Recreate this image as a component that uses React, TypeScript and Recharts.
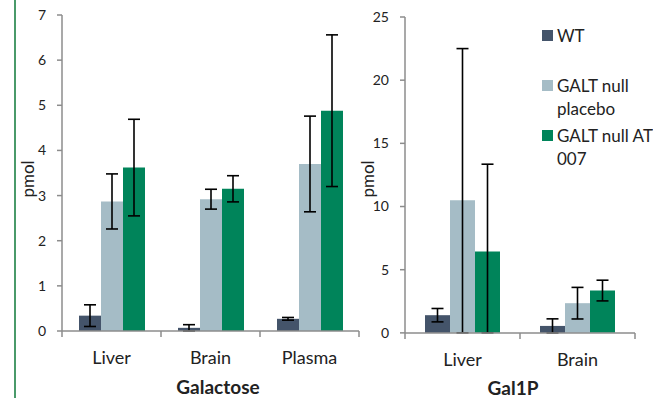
import React from "react"
import { BarChart, Bar, XAxis, YAxis, ErrorBar, Legend } from "recharts"

const galCategories = ["Liver", "Brain", "Plasma"]
const galWT = [0.34, 0.07, 0.27]
const galWTErr = [0.24, 0.07, 0.03]
const galPlacebo = [2.87, 2.92, 3.7]
const galPlaceboErr = [0.61, 0.22, 1.06]
const galAT = [3.62, 3.15, 4.88]
const galATErr = [1.07, 0.29, 1.68]
const galTicks = [0, 1, 2, 3, 4, 5, 6, 7]

const g1pCategories = ["Liver", "Brain"]
const g1pWT = [1.4, 0.55]
const g1pWTErr = [0.53, 0.56]
const g1pPlacebo = [10.5, 2.35]
// lower whisker is cut at the axis in the original
const g1pPlaceboErr: [number, number][] = [[10.5, 12.0], [1.25, 1.25]]
const g1pAT = [6.45, 3.35]
const g1pATErr: [number, number][] = [[6.45, 6.9], [0.82, 0.82]]
const g1pTicks = [0, 5, 10, 15, 20, 25]

const seriesNames = ["WT", "GALT null placebo", "GALT null AT 007"]

const WT_COLOR = "#44546a"
const PLACEBO_COLOR = "#a5bcc6"
const AT_COLOR = "#00845a"
const AXIS_COLOR = "#8c8c8c"
const FONT = "Lato, 'Open Sans', sans-serif"
const CAP = 6

const galData = galCategories.map((name, i) => ({
  name,
  wt: galWT[i],
  wtErr: galWTErr[i],
  placebo: galPlacebo[i],
  placeboErr: galPlaceboErr[i],
  at: galAT[i],
  atErr: galATErr[i],
}))

const g1pData = g1pCategories.map((name, i) => ({
  name,
  wt: g1pWT[i],
  wtErr: g1pWTErr[i],
  placebo: g1pPlacebo[i],
  placeboErr: g1pPlaceboErr[i],
  at: g1pAT[i],
  atErr: g1pATErr[i],
}))

const makeCatTick = (band: number, count: number) => (props: any) => {
  const { x, y, payload, index } = props
  const half = band / 2
  return (
    <g>
      <line x1={x - half} x2={x - half} y1={y} y2={y + 6} stroke={AXIS_COLOR} strokeWidth={1.5} />
      {index === count - 1 && (
        <line x1={x + half} x2={x + half} y1={y} y2={y + 6} stroke={AXIS_COLOR} strokeWidth={1.5} />
      )}
      <text x={x} y={y + 26} textAnchor="middle" dominantBaseline="central" fill="#222" fontSize={18} fontFamily={FONT}>
        {payload.value}
      </text>
    </g>
  )
}

const legendContent = (props: any) => {
  const items = [...(props.payload || [])].sort(
    (a: any, b: any) => seriesNames.indexOf(a.value) - seriesNames.indexOf(b.value)
  )
  return (
    <div style={{ fontFamily: FONT, fontSize: 17, color: "#222" }}>
      {items.map((it: any) => (
        <div key={it.value} style={{ display: "flex", height: 50, alignItems: "flex-start" }}>
          <div style={{ width: 11, height: 11, background: it.color, marginTop: 6, marginRight: 4, flexShrink: 0 }} />
          <div style={{ width: 96, lineHeight: "23px" }}>{it.value}</div>
        </div>
      ))}
    </div>
  )
}

const yTick = { fill: "#222", fontSize: 14, fontFamily: FONT }

export default function App() {
  return (
    <div style={{ position: "absolute", left: 0, top: 0, width: 653, height: 398, background: "#fff", overflow: "hidden" }}>
      <div style={{ position: "absolute", left: 14, top: 0, width: 2, height: 398, background: "#4a9a6a" }} />

      <div style={{ position: "absolute", left: 0, top: 0 }}>
        <BarChart width={360} height={398} data={galData} margin={{ top: 15, right: 1, bottom: 0, left: 0 }} barGap={0}>
          <XAxis
            dataKey="name"
            height={67}
            stroke={AXIS_COLOR}
            strokeWidth={1.5}
            tickLine={false}
            tickSize={0}
            tickMargin={0}
            interval={0}
            tick={makeCatTick(297 / galCategories.length, galCategories.length)}
            label={() => (
              <text x={218} y={394} textAnchor="middle" fontWeight="bold" fontSize={19} fill="#222" fontFamily={FONT}>
                Galactose
              </text>
            )}
          />
          <YAxis
            width={62}
            domain={[0, 7]}
            ticks={galTicks}
            interval={0}
            stroke={AXIS_COLOR}
            strokeWidth={1.5}
            tickSize={5}
            tickMargin={11}
            tick={yTick}
            label={() => (
              <text x={27} y={179} transform="rotate(-90 27 179)" textAnchor="middle" dominantBaseline="central" fontSize={17} fill="#222" fontFamily={FONT}>
                pmol
              </text>
            )}
          />
          <Bar dataKey="wt" name={seriesNames[0]} fill={WT_COLOR} barSize={22} isAnimationActive={false}>
            <ErrorBar dataKey="wtErr" width={CAP} stroke="#000" strokeWidth={1.6} />
          </Bar>
          <Bar dataKey="placebo" name={seriesNames[1]} fill={PLACEBO_COLOR} barSize={22} isAnimationActive={false}>
            <ErrorBar dataKey="placeboErr" width={CAP} stroke="#000" strokeWidth={1.6} />
          </Bar>
          <Bar dataKey="at" name={seriesNames[2]} fill={AT_COLOR} barSize={22} isAnimationActive={false}>
            <ErrorBar dataKey="atErr" width={CAP} stroke="#000" strokeWidth={1.6} />
          </Bar>
        </BarChart>
      </div>

      <div style={{ position: "absolute", left: 330, top: 0 }}>
        <BarChart width={323} height={398} data={g1pData} margin={{ top: 17, right: 18, bottom: 0, left: 0 }} barGap={0}>
          <XAxis
            dataKey="name"
            height={65}
            stroke={AXIS_COLOR}
            strokeWidth={1.5}
            tickLine={false}
            tickSize={0}
            tickMargin={0}
            interval={0}
            tick={makeCatTick(230 / g1pCategories.length, g1pCategories.length)}
            label={() => (
              <text x={183} y={395} textAnchor="middle" fontWeight="bold" fontSize={19} fill="#222" fontFamily={FONT}>
                Gal1P
              </text>
            )}
          />
          <YAxis
            width={75}
            domain={[0, 25]}
            ticks={g1pTicks}
            interval={0}
            stroke={AXIS_COLOR}
            strokeWidth={1.5}
            tickSize={5}
            tickMargin={11}
            tick={yTick}
            label={() => (
              <text x={37} y={179} transform="rotate(-90 37 179)" textAnchor="middle" dominantBaseline="central" fontSize={17} fill="#222" fontFamily={FONT}>
                pmol
              </text>
            )}
          />
          <Legend
            layout="vertical"
            align="center"
            verticalAlign="middle"
            content={legendContent}
            wrapperStyle={{ left: 212, top: 24, width: 111, height: 150 }}
          />
          <Bar dataKey="wt" name={seriesNames[0]} fill={WT_COLOR} barSize={25} isAnimationActive={false}>
            <ErrorBar dataKey="wtErr" width={CAP} stroke="#000" strokeWidth={1.6} />
          </Bar>
          <Bar dataKey="placebo" name={seriesNames[1]} fill={PLACEBO_COLOR} barSize={25} isAnimationActive={false}>
            <ErrorBar dataKey="placeboErr" width={CAP} stroke="#000" strokeWidth={1.6} />
          </Bar>
          <Bar dataKey="at" name={seriesNames[2]} fill={AT_COLOR} barSize={25} isAnimationActive={false}>
            <ErrorBar dataKey="atErr" width={CAP} stroke="#000" strokeWidth={1.6} />
          </Bar>
        </BarChart>
      </div>
    </div>
  )
}
